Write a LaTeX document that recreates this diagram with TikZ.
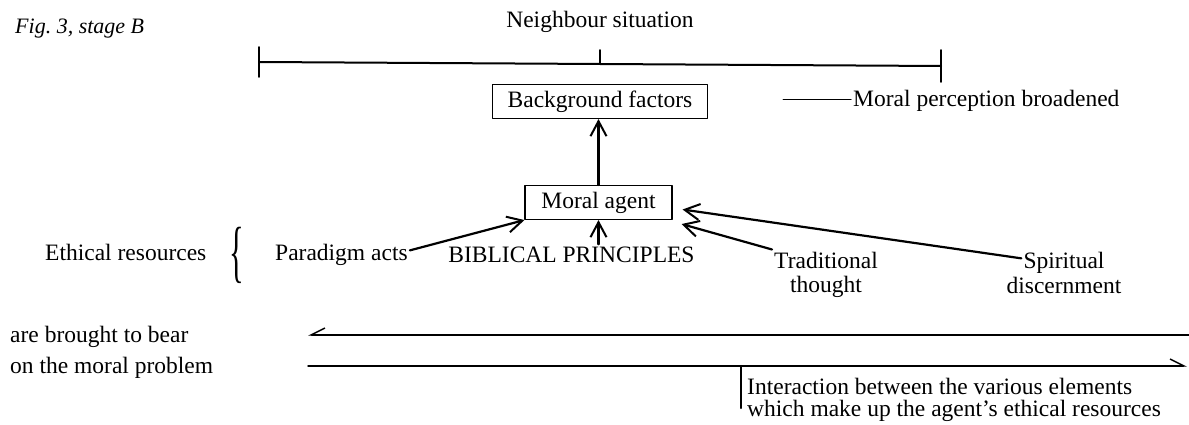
\documentclass[tikz,border=0pt]{standalone}
\usepackage{fontspec}
\setmainfont{Liberation Serif}
\usetikzlibrary{arrows.meta}

\begin{document}
\begin{tikzpicture}[x=1pt, y=-1pt, line join=round, line cap=round,
    every node/.style={font=\fontsize{23.5}{24}\selectfont, inner sep=2pt},
    factor/.style={draw, line width=1.1pt, inner sep=0pt, minimum height=34pt},
    feed/.style={line width=2.2pt, -{Straight Barb[length=15pt, width=16pt, line width=2pt]}},
    flow/.style={line width=1.4pt}]
    \useasboundingbox (0,0) rectangle (1189,425);

    \node[anchor=base west, font=\fontsize{22}{24}\selectfont\itshape] (fig) at (13,34) {Fig.~3, stage B};

    % neighbour situation
    \node[anchor=base] (neigh) at (600,28) {Neighbour situation};
    \coordinate (nl) at (259,62);
    \coordinate (nm) at (600,64);
    \coordinate (nr) at (941,66);
    \draw[line width=2pt] (nl) -- (nr);
    \foreach \c/\up/\down in {nl/15/15, nm/14/0, nr/16/16}
        \draw[line width=1.6pt] ([yshift=\up pt]\c) -- ([yshift=-\down pt]\c);

    \node[factor, minimum width=215pt] (bg) at (600,101.5) {Background factors};
    \node[factor, minimum width=147pt] (ma) at (598.5,202.5) {Moral agent};
    \draw[feed] (ma.north) -- (ma.north |- bg.south);

    \node[anchor=base west] (mpb) at (851,107) {Moral perception broadened};
    \coordinate (mpl) at (783,100);
    \draw[line width=1pt] (mpl) -- (mpl -| mpb.west);

    % ethical resources
    \node[anchor=base west] (eth) at (43,260) {Ethical resources};
    \node (br) at (237,255) {\scalebox{1.3}[2.9]{\{}};
    \node[anchor=base west] (pa) at (273,260) {Paradigm acts};
    \node[anchor=base] (bp) at (571.5,262) {BIBLICAL PRINCIPLES};
    \node[anchor=base] (tr) at (826,268) {Traditional};
    \node[anchor=base] (th) at (826,292) {thought};
    \node[anchor=base] (sp) at (1064,268) {Spiritual};
    \node[anchor=base] (di) at (1064,293) {discernment};

    \draw[feed] ([yshift=4pt]pa.east) -- (ma.south west);
    \draw[feed] (bp.north -| ma.south) -- (ma.south);
    \draw[feed] (tr.north west) -- ([xshift=9pt,yshift=-4pt]ma.south east);
    \draw[feed] ([yshift=4pt]sp.west) -- ([xshift=10pt,yshift=-7pt]ma.east);

    % bearing on the problem
    \node[anchor=base west] (br1) at (8,342) {are brought to bear};
    \node[anchor=base west] (br2) at (8,373) {on the moral problem};
    \coordinate (ua) at (1189,335);
    \coordinate (ub) at (308,335);
    \coordinate (la) at (308,366);
    \coordinate (lb) at (1187,366);
    \draw[flow, -{Straight Barb[harpoon, swap, length=14pt, width=14pt, line width=1.4pt]}] (ua) -- (ub);
    \draw[flow, -{Straight Barb[harpoon, length=14pt, width=14pt, line width=1.4pt]}] (la) -- (lb);

    \coordinate (tk) at (741,366);
    \coordinate (tkb) at (741,408);
    \draw[line width=2.2pt] (tk) -- (tkb);
    \node[anchor=base west] (in1) at (745,394) {Interaction between the various elements};
    \node[anchor=base west] (in2) at (745,416) {which make up the agent's ethical resources};
\end{tikzpicture}
\end{document}
